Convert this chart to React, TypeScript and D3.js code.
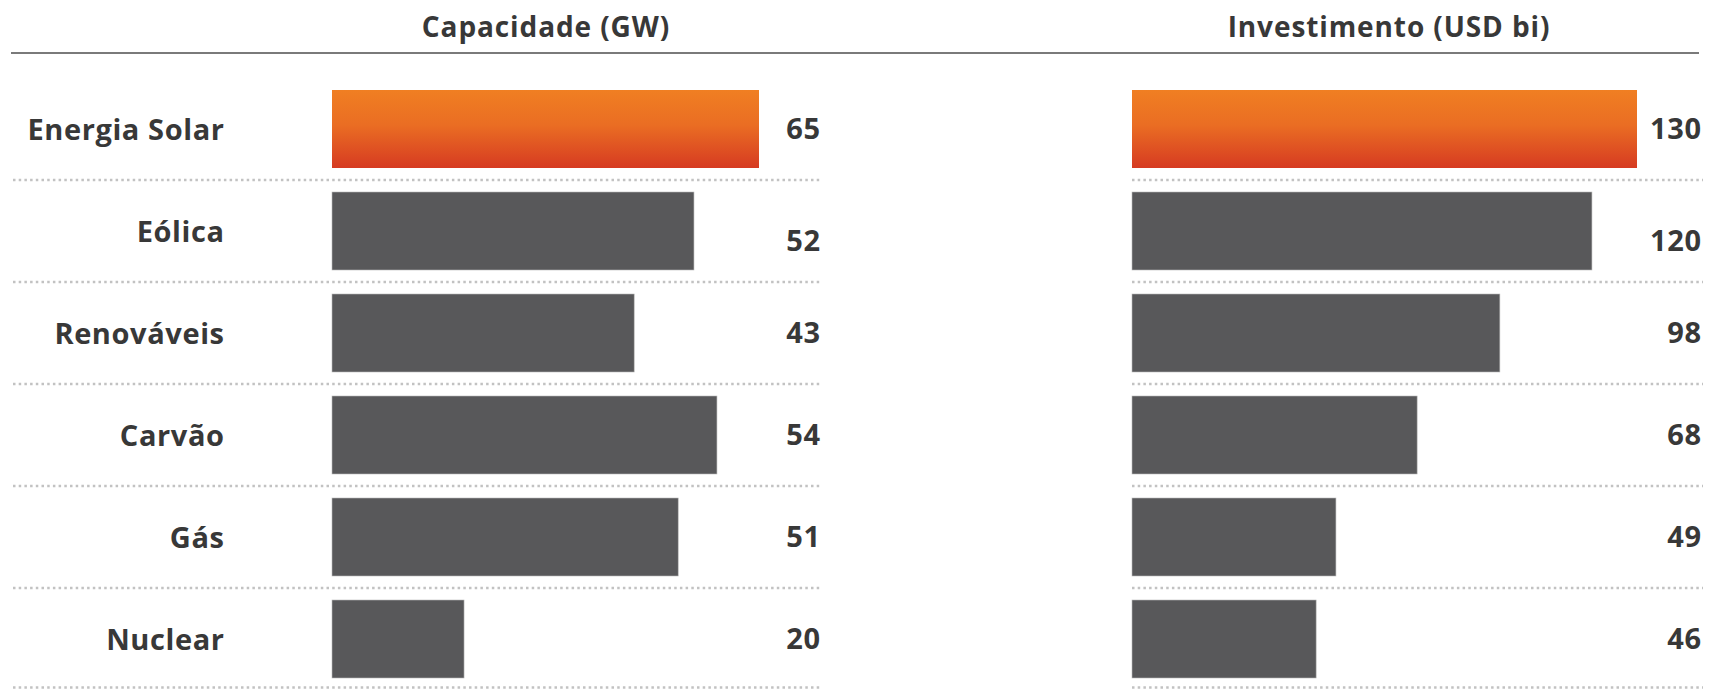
import React from "react";
import * as d3 from "d3";

const categories = ["Energia Solar", "Eólica", "Renováveis", "Carvão", "Gás", "Nuclear"];
// bar lengths as drawn in the picture
const capacityBars = [65, 55.1, 46, 58.6, 52.7, 20.1];
const capacityLabels = ["65", "52", "43", "54", "51", "20"];
const investmentBars = [130, 118.4, 94.7, 73.4, 52.5, 47.4];
const investmentLabels = ["130", "120", "98", "68", "49", "46"];
const panelTitles = ["Capacidade (GW)", "Investimento (USD bi)"];
// value label shifted down in the reference for the second row
const labelOffsets = [0, 10, 0, 0, 0, 0];

const W = 1709;
const H = 689;
const FONT = "'Open Sans', 'Noto Sans', sans-serif";
const TEXT = "#383838";
const GRAY = "#58585a";

export default function App() {
  const y = d3
    .scaleBand<string>()
    .domain(categories)
    .range([90 - 12, 90 - 12 + 102 * 6])
    .paddingInner(0)
    .paddingOuter(0);
  const barTop = (c: string) => (y(c) as number) + 12;
  const barH = 78;

  const xL = d3.scaleLinear().domain([0, 65]).range([332, 759]);
  const xR = d3.scaleLinear().domain([0, 130]).range([1132, 1637]);

  const panels = [
    { x: xL, bars: capacityBars, labels: capacityLabels, title: panelTitles[0], titleX: 546, lineX0: 13, lineX1: 820, labelX: 820.6 },
    { x: xR, bars: investmentBars, labels: investmentLabels, title: panelTitles[1], titleX: 1389, lineX0: 1132, lineX1: 1703, labelX: 1701.6 },
  ];

  return (
    <svg
      width={W}
      height={H}
      style={{ position: "absolute", left: 0, top: 0, background: "#fff" }}
      fontFamily={FONT}
    >
      <defs>
        <linearGradient id="solarGrad" x1="0" y1="0" x2="0" y2="1">
          <stop offset="0%" stopColor="#f07f22" />
          <stop offset="45%" stopColor="#ea6d23" />
          <stop offset="100%" stopColor="#d63b22" />
        </linearGradient>
      </defs>

      <line x1={11} x2={1699} y1={53} y2={53} stroke="#7a7a7a" strokeWidth={2} />

      {panels.map((p, pi) => (
        <g key={pi}>
          <text x={p.titleX} y={37} textAnchor="middle" fontSize={28} letterSpacing={0.9} fontWeight={700} fill={TEXT}>
            {p.title}
          </text>
          {categories.map((c, i) => (
            <line
              key={"d" + i}
              x1={p.lineX0}
              x2={p.lineX1}
              y1={Math.min((y(c) as number) + y.bandwidth(), H - 1.5)}
              y2={Math.min((y(c) as number) + y.bandwidth(), H - 1.5)}
              stroke="#c2c2c2"
              strokeWidth={2.5}
              strokeDasharray="2.5 3.2"
            />
          ))}
          {categories.map((c, i) => (
            <rect
              key={"b" + i}
              x={p.x(0)}
              y={barTop(c)}
              width={p.x(p.bars[i]) - p.x(0)}
              height={barH}
              fill={i === 0 ? "url(#solarGrad)" : GRAY}
              stroke={i === 0 ? "none" : "#b8b8b8"}
              strokeWidth={0.6}
            />
          ))}
          {categories.map((c, i) => (
            <text
              key={"v" + i}
              x={p.labelX}
              y={barTop(c) + barH / 2 + labelOffsets[i]}
              dy="0.35em"
              textAnchor="end"
              fontSize={29}
              letterSpacing={0.6}
              fontWeight={700}
              fill={TEXT}
            >
              {p.labels[i]}
            </text>
          ))}
        </g>
      ))}

      {categories.map((c, i) => (
        <text
          key={"c" + i}
          x={224.6}
          y={barTop(c) + barH / 2 + 1}
          dy="0.35em"
          textAnchor="end"
          fontSize={29}
          letterSpacing={0.6}
          fontWeight={700}
          fill={TEXT}
        >
          {c}
        </text>
      ))}
    </svg>
  );
}
